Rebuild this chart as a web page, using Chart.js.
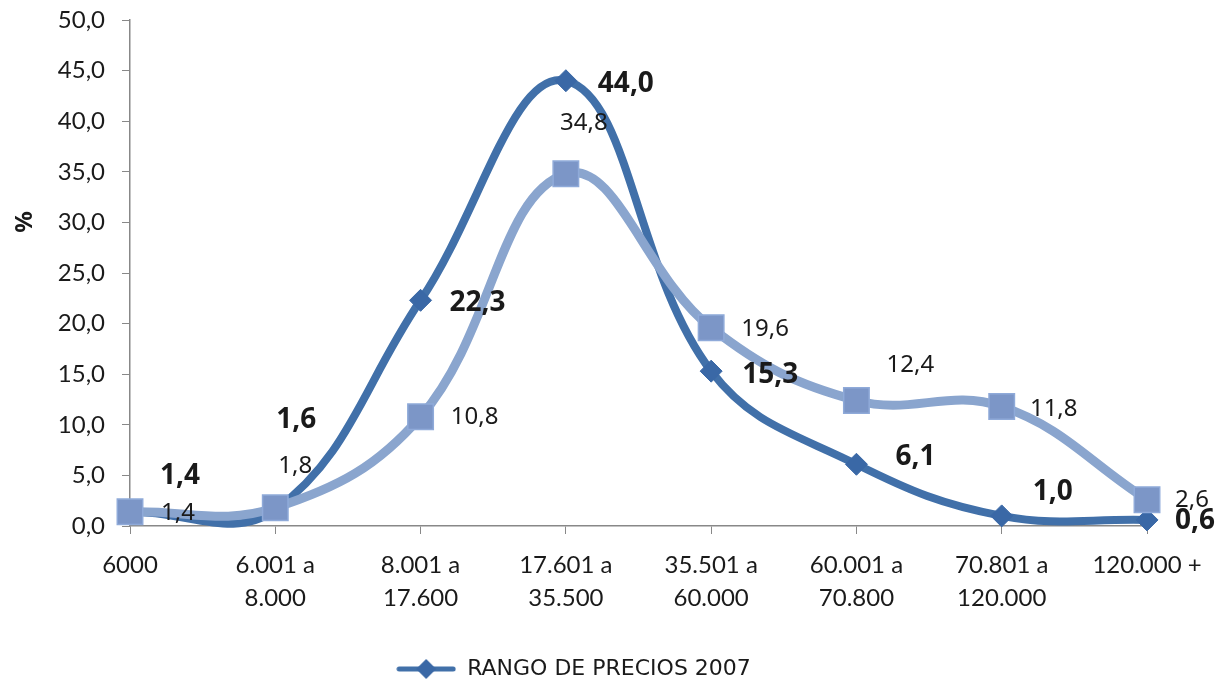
<!DOCTYPE html>
<html>
<head>
<meta charset="utf-8">
<title>Rango de precios</title>
<script src="https://cdn.jsdelivr.net/npm/chart.js@4.4.1/dist/chart.umd.min.js"></script>
<style>
  html, body { margin: 0; padding: 0; background: #fff; }
  #wrap { width: 1224px; height: 684px; }
</style>
</head>
<body>
<div id="wrap"><canvas id="precios"></canvas></div>
<script>
// Rangos de precio
var rangos = [
    "6000",
    ["6.001 a", "8.000"],
    ["8.001 a", "17.600"],
    ["17.601 a", "35.500"],
    ["35.501 a", "60.000"],
    ["60.001 a", "70.800"],
    ["70.801 a", "120.000"],
    "120.000 +"
];

// Porcentajes por rango
var precios2007 = [1.4, 1.6, 22.3, 44.0, 15.3, 6.1, 1.0, 0.6];
var preciosComp = [1.4, 1.8, 10.8, 34.8, 19.6, 12.4, 11.8, 2.6];

// Eje Y
var ejeMin = 0;
var ejeMax = 50;
var ejePaso = 5;

var azulOscuro = '#4170A9';
var azulClaro = '#8AA5CE';
var texto = '#1a1a1a';

function coma(v) {
    return Number(v).toFixed(1).replace('.', ',');
}

// marcador de la leyenda: linea con rombo
var marcaLeyenda = document.createElement('canvas');
marcaLeyenda.width = 60;
marcaLeyenda.height = 22;
(function () {
    var c = marcaLeyenda.getContext('2d');
    c.strokeStyle = azulOscuro;
    c.lineWidth = 5;
    c.lineCap = 'round';
    c.beginPath();
    c.moveTo(3, 11);
    c.lineTo(57, 11);
    c.stroke();
    c.fillStyle = '#3A68A6';
    c.beginPath();
    c.moveTo(30, 1);
    c.lineTo(40, 11);
    c.lineTo(30, 21);
    c.lineTo(20, 11);
    c.closePath();
    c.fill();
})();

// etiquetas de valor junto a cada punto + titulo del eje
var etiquetas = {
    id: 'etiquetas',
    afterDatasetsDraw: function (chart, args, opts) {
        var ctx = chart.ctx;
        chart.data.datasets.forEach(function (ds, i) {
            var meta = chart.getDatasetMeta(i);
            var cfg = opts.series[i];
            ctx.save();
            ctx.font = cfg.font;
            ctx.fillStyle = texto;
            ctx.textAlign = 'center';
            ctx.textBaseline = 'middle';
            meta.data.forEach(function (pt, j) {
                var d = cfg.desplaz[j];
                ctx.fillText(coma(ds.data[j]), pt.x + d[0], pt.y + d[1]);
            });
            ctx.restore();
        });

        ctx.save();
        ctx.translate(25, 222);
        ctx.rotate(-Math.PI / 2);
        ctx.font = 'bold 24px "Noto Sans"';
        ctx.fillStyle = texto;
        ctx.textAlign = 'center';
        ctx.textBaseline = 'middle';
        ctx.fillText('%', 0, 0);
        ctx.restore();
    }
};

var ctx = document.getElementById('precios');

var chartData = {
    labels: rangos,
    datasets: [{
        label: 'RANGO DE PRECIOS',
        data: preciosComp,
        borderColor: azulClaro,
        borderWidth: 9,
        pointStyle: 'rect',
        pointRadius: 18,
        pointHoverRadius: 18,
        pointBackgroundColor: '#7C96C7',
        pointBorderColor: '#8FAAD9',
        pointBorderWidth: 1.5,
        tension: 0.4,
        clip: false
    }, {
        label: 'RANGO DE PRECIOS 2007',
        data: precios2007,
        borderColor: azulOscuro,
        borderWidth: 8,
        pointStyle: 'rectRot',
        pointRadius: 11,
        pointHoverRadius: 11,
        pointBackgroundColor: '#3A68A6',
        pointBorderColor: '#3A68A6',
        pointBorderWidth: 1,
        tension: 0.4,
        clip: false
    }]
};

var chartOptions = {
    responsive: true,
    maintainAspectRatio: false,
    animation: false,
    layout: {
        padding: { left: 0, right: 77, top: 20, bottom: -6 }
    },
    elements: {
        line: { capBezierPoints: false }
    },
    scales: {
        x: {
            offset: false,
            afterFit: function (s) { s.height = 122; },
            grid: {
                drawOnChartArea: false,
                drawTicks: true,
                tickLength: 8,
                color: '#888'
            },
            border: { color: '#888', width: 1.5 },
            ticks: {
                autoSkip: false,
                maxRotation: 0,
                minRotation: 0,
                padding: 14,
                color: texto,
                font: { family: 'Lato', size: 24, lineHeight: 1.4 }
            }
        },
        y: {
            min: ejeMin,
            max: ejeMax,
            afterFit: function (s) {
                s.width = 130;
                s.paddingTop = 0;
                s.paddingBottom = 0;
            },
            grid: {
                drawOnChartArea: false,
                drawTicks: true,
                tickLength: 8,
                color: '#888'
            },
            border: { color: '#888', width: 1.5 },
            ticks: {
                stepSize: ejePaso,
                padding: 17,
                color: texto,
                font: { family: 'Lato', size: 24 },
                callback: function (v) { return coma(v); }
            }
        }
    },
    plugins: {
        tooltip: { enabled: false },
        legend: {
            position: 'bottom',
            labels: {
                usePointStyle: true,
                pointStyleWidth: 60,
                padding: 10,
                color: texto,
                font: { family: 'DejaVu Sans', size: 22 },
                filter: function (item) { return item.datasetIndex === 1; },
                generateLabels: function (chart) {
                    return chart.data.datasets.map(function (ds, i) {
                        return {
                            text: ds.label,
                            datasetIndex: i,
                            pointStyle: marcaLeyenda,
                            fillStyle: azulOscuro,
                            strokeStyle: azulOscuro,
                            lineWidth: 0,
                            fontColor: texto
                        };
                    });
                }
            }
        },
        etiquetas: {
            series: [{
                font: '24px "Noto Sans"',
                desplaz: [[48, 1], [20, -42], [54, 0], [18, -51], [54, 2], [54, -35], [52, 3], [45, 0]]
            }, {
                font: 'bold 28px "Noto Sans"',
                desplaz: [[50, -36], [21, -90], [57, 3], [60, 3], [59, 4], [59, -7], [51, -24], [48, 1]]
            }]
        }
    }
};

var config = {
    type: 'line',
    data: chartData,
    options: chartOptions,
    plugins: [etiquetas]
};

var preciosChart = new Chart(ctx, config);
</script>
</body>
</html>
